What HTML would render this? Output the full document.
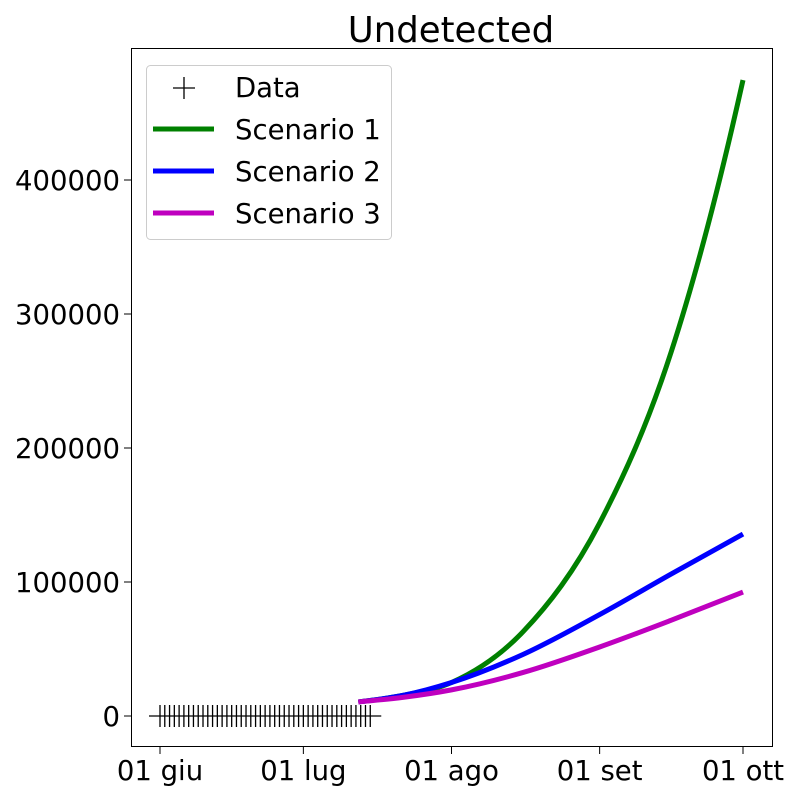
<!DOCTYPE html>
<html><head><meta charset="utf-8"><style>
body{margin:0;background:#fff}
svg text{font-family:"DejaVu Sans","Liberation Sans",sans-serif;fill:#000}
</style></head><body>
<svg id="chart" width="800" height="800">
<rect width="800" height="800" fill="#fff"/>
<text x="451" y="42" font-size="35.5" text-anchor="middle">Undetected</text>
<g id="plot"></g>
<rect x="131.5" y="48.5" width="641" height="698" fill="none" stroke="#000" stroke-width="1"/>
<g id="axes"></g>
<g>
<rect x="146.5" y="65.5" width="245" height="174" rx="4" fill="#fff" fill-opacity="0.8" stroke="#ccc"/>
<g><path d="M173 88h22M184 77v22" stroke="#000" stroke-width="1.3"/><text x="235" y="97" font-size="27.5">Data</text></g>
<g><path d="M153 129h61" stroke="#008000" stroke-width="5"/><text x="235" y="139" font-size="27.5">Scenario 1</text></g>
<g><path d="M153 171h61" stroke="#0000ff" stroke-width="5"/><text x="235" y="181" font-size="27.5">Scenario 2</text></g>
<g><path d="M153 213h61" stroke="#bf00bf" stroke-width="5"/><text x="235" y="223" font-size="27.5">Scenario 3</text></g>
</g>
</svg>
<script>
const dataDays = Array.from({length:45},(_,i)=>i);
const dataValues = [0,0,0,0,0,0,0,0,0,0,0,0,0,0,0,0,0,0,0,0,0,0,0,0,0,0,0,0,0,0,0,0,0,0,0,0,0,0,0,0,0,0,0,0,0];
const scenDays = [41.5,51,61,76,92,107,122];
const scenario1 = [10500,15500,25000,63000,144000,272000,474600];
const scenario2 = [10500,15500,25000,46000,75700,106000,135800];
const scenario3 = [10500,14000,19500,32500,51500,71500,92500];
const yTicks = [0,100000,200000,300000,400000];
const xTickDays = [0,30,61,92,122];
const xTickLabels = ["01 giu","01 lug","01 ago","01 set","01 ott"];

const NS="http://www.w3.org/2000/svg";
const xs=d=>160+d*(583/122);
const ys=v=>716-v*0.00134;
const plot=document.getElementById('plot'), axes=document.getElementById('axes');
function mk(tag,attrs,parent){const e=document.createElementNS(NS,tag);for(const k in attrs)e.setAttribute(k,attrs[k]);parent.appendChild(e);return e;}

yTicks.forEach(v=>{
  const t=mk('line',{x1:124,x2:131,y1:ys(v),y2:ys(v),stroke:'#000'},axes);
  
  
  const l=mk('text',{x:120,y:ys(v)+10,'font-size':27.5,'text-anchor':'end'},axes);
  l.textContent=String(v);
  
  
});
xTickDays.forEach((d,i)=>{
  const t=mk('line',{x1:xs(d),x2:xs(d),y1:747,y2:754,stroke:'#000'},axes);
  
  
  const l=mk('text',{x:xs(d),y:780,'font-size':27.5,'text-anchor':'middle'},axes);
  l.textContent=xTickLabels[i];
  
  
});
let dp='';
dataDays.forEach((d,i)=>{const x=xs(d),y=ys(dataValues[i]);dp+=`M${x-11} ${y}h22M${x} ${y-11}v22`;});
const dm=mk('path',{d:dp,stroke:'#000','stroke-width':1.3,fill:'none'},plot);



function smooth(days,vals){
  const p=days.map((d,i)=>[xs(d),ys(vals[i])]);
  const n=p.length, sl=[], m=[];
  for(let i=0;i<n-1;i++) sl.push((p[i+1][1]-p[i][1])/(p[i+1][0]-p[i][0]));
  for(let i=0;i<n;i++){
    if(i===0) m.push(sl[0]-(sl[1]-sl[0])*0.5*(p[1][0]-p[0][0])/(p[2][0]-p[0][0])*2*0.5);
    else if(i===n-1) m.push(sl[n-2]+(sl[n-2]-sl[n-3])*0.5);
    else{const h0=p[i][0]-p[i-1][0],h1=p[i+1][0]-p[i][0];m.push((sl[i-1]*h1+sl[i]*h0)/(h0+h1));}
  }
  let s=`M${p[0][0]} ${p[0][1]}`;
  for(let i=0;i<n-1;i++){
    const h=(p[i+1][0]-p[i][0])/3;
    s+=`C${p[i][0]+h} ${p[i][1]+m[i]*h} ${p[i+1][0]-h} ${p[i+1][1]-m[i+1]*h} ${p[i+1][0]} ${p[i+1][1]}`;
  }
  return s;
}
[[scenario1,'#008000','line-scenario-1'],[scenario2,'#0000ff','line-scenario-2'],[scenario3,'#bf00bf','line-scenario-3']].forEach(([v,c,n])=>{
  const e=mk('path',{d:smooth(scenDays,v),stroke:c,'stroke-width':5,fill:'none'},plot);
  
  
});
</script>
</body></html>
